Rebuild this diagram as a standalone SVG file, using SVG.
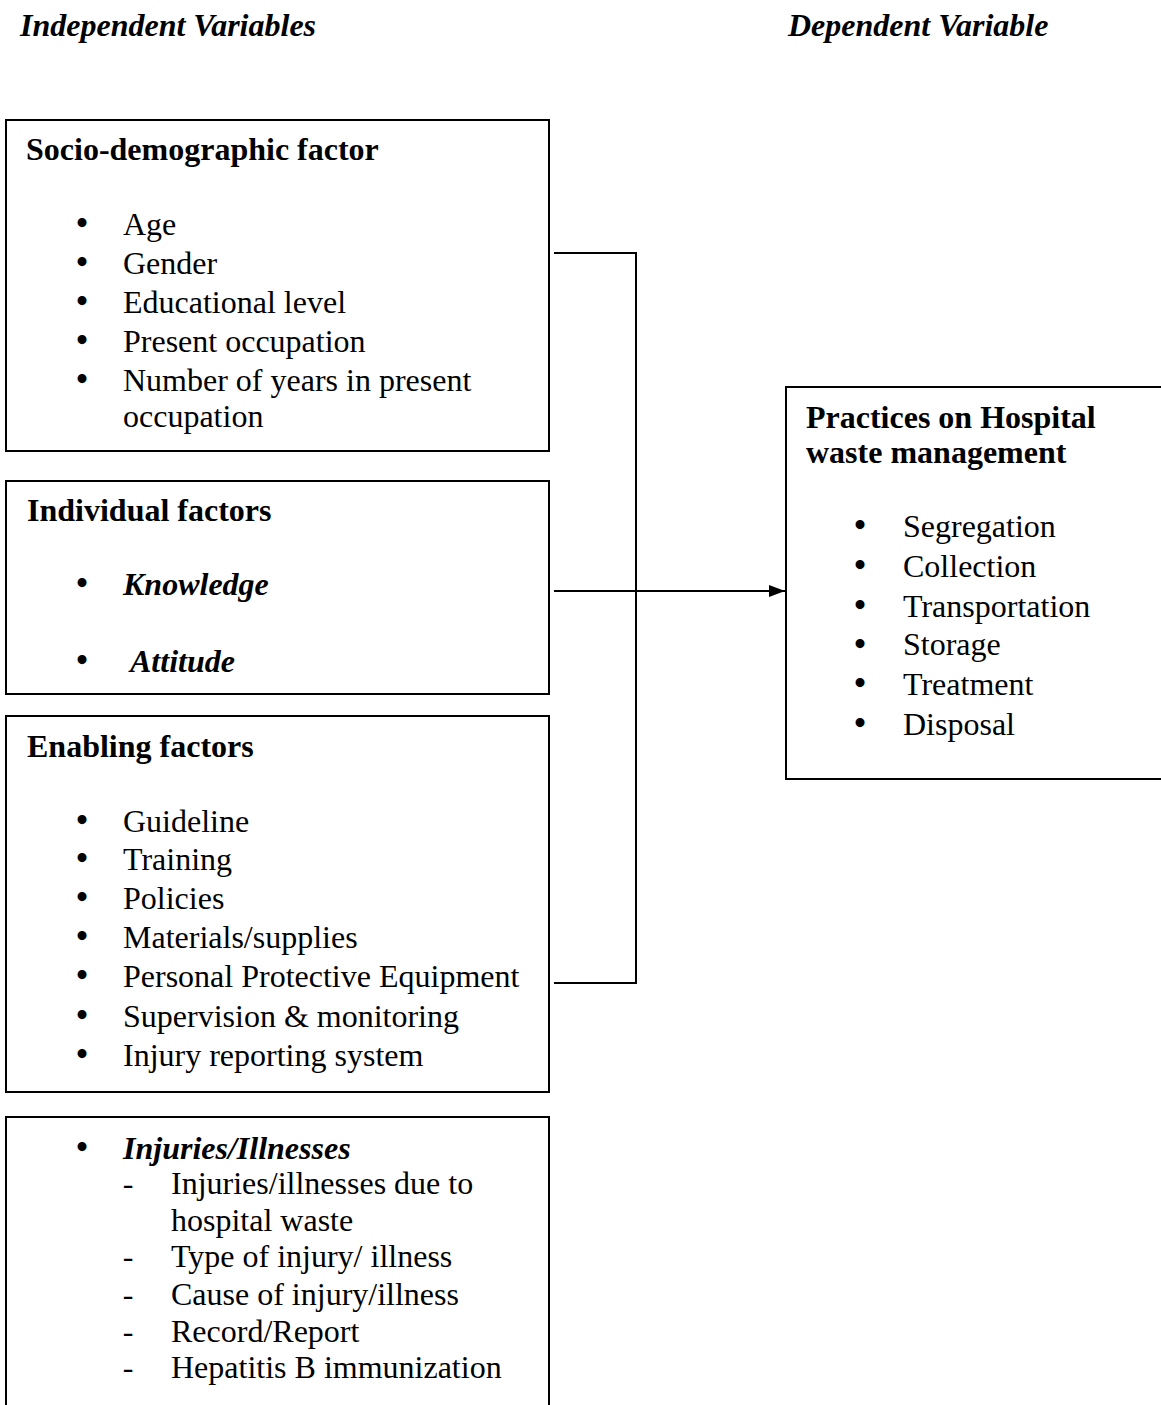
<svg xmlns="http://www.w3.org/2000/svg" width="1161" height="1405" viewBox="0 0 1161 1405">
<style>
text{font-family:"Liberation Serif","Times New Roman",serif;font-size:32px;fill:#000}
.h{font-weight:bold}
.bi{font-weight:bold;font-style:italic}
.b{text-anchor:middle;font-size:33px;font-weight:bold}
.d{text-anchor:middle}
.box{fill:#fff;stroke:#000;stroke-width:2}
.con{fill:none;stroke:#000;stroke-width:2}
</style>
<defs>
<marker id="ah" viewBox="0 0 16 12" markerWidth="16" markerHeight="12" refX="16" refY="6" orient="auto" markerUnits="userSpaceOnUse">
<path d="M0,0 L16,6 L0,12 Z" fill="#000"/>
</marker>
</defs>
<g id="headers">
<text class="bi" x="20" y="36">Independent Variables</text>
<text class="bi" x="788" y="36">Dependent Variable</text>
</g>
<g id="connectors">
<polyline class="con" points="554,253 636,253 636,983 554,983"/>
<line class="con" x1="554" y1="591" x2="785" y2="591" marker-end="url(#ah)"/>
</g>
<g id="socio">
<rect class="box" x="6" y="120" width="543" height="331"/>
<text class="h" x="26" y="160">Socio-demographic factor</text>
<text class="b" x="82" y="234">•</text><text x="123" y="235">Age</text>
<text class="b" x="82" y="273">•</text><text x="123" y="274">Gender</text>
<text class="b" x="82" y="312">•</text><text x="123" y="313">Educational level</text>
<text class="b" x="82" y="351">•</text><text x="123" y="352">Present occupation</text>
<text class="b" x="82" y="390">•</text><text x="123" y="391">Number of years in present</text>
<text x="123" y="427">occupation</text>
</g>
<g id="individual">
<rect class="box" x="6" y="481" width="543" height="213"/>
<text class="h" x="27" y="521">Individual factors</text>
<text class="b" x="82" y="594">•</text><text class="bi" x="123" y="595">Knowledge</text>
<text class="b" x="82" y="671">•</text><text class="bi" x="130" y="672">Attitude</text>
</g>
<g id="enabling">
<rect class="box" x="6" y="716" width="543" height="376"/>
<text class="h" x="27" y="757">Enabling factors</text>
<text class="b" x="82" y="831">•</text><text x="123" y="832">Guideline</text>
<text class="b" x="82" y="869">•</text><text x="123" y="870">Training</text>
<text class="b" x="82" y="908">•</text><text x="123" y="909">Policies</text>
<text class="b" x="82" y="947">•</text><text x="123" y="948">Materials/supplies</text>
<text class="b" x="82" y="986">•</text><text x="123" y="987">Personal Protective Equipment</text>
<text class="b" x="82" y="1026">•</text><text x="123" y="1027">Supervision &amp; monitoring</text>
<text class="b" x="82" y="1065">•</text><text x="123" y="1066">Injury reporting system</text>
</g>
<g id="injuries">
<rect class="box" x="6" y="1117" width="543" height="300"/>
<text class="b" x="82" y="1158">•</text><text class="bi" x="123" y="1159">Injuries/Illnesses</text>
<text class="d" x="128" y="1194">-</text><text x="171" y="1194">Injuries/illnesses due to</text>
<text x="171" y="1231">hospital waste</text>
<text class="d" x="128" y="1267">-</text><text x="171" y="1267">Type of injury/ illness</text>
<text class="d" x="128" y="1305">-</text><text x="171" y="1305">Cause of injury/illness</text>
<text class="d" x="128" y="1342">-</text><text x="171" y="1342">Record/Report</text>
<text class="d" x="128" y="1378">-</text><text x="171" y="1378">Hepatitis B immunization</text>
</g>
<g id="practices">
<rect class="box" x="786" y="387" width="400" height="392"/>
<text class="h" x="806" y="428">Practices on Hospital</text>
<text class="h" x="806" y="463">waste management</text>
<text class="b" x="860" y="536">•</text><text x="903" y="537">Segregation</text>
<text class="b" x="860" y="576">•</text><text x="903" y="577">Collection</text>
<text class="b" x="860" y="616">•</text><text x="903" y="617">Transportation</text>
<text class="b" x="860" y="655">•</text><text x="903" y="655">Storage</text>
<text class="b" x="860" y="694">•</text><text x="903" y="695">Treatment</text>
<text class="b" x="860" y="734">•</text><text x="903" y="735">Disposal</text>
</g>
</svg>
